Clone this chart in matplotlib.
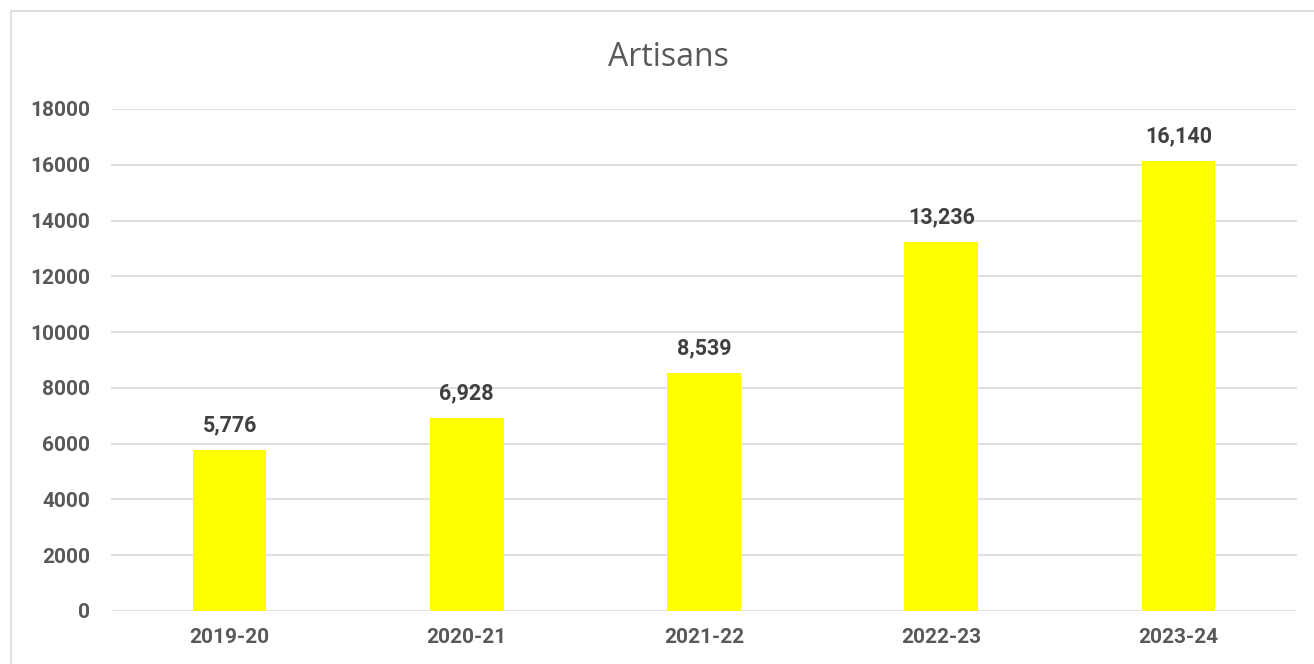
import matplotlib.pyplot as plt
from matplotlib.patches import Rectangle

years = ['2019-20', '2020-21', '2021-22', '2022-23', '2023-24']
artisans = [5776, 6928, 8539, 13236, 16140]
yticks = [0, 2000, 4000, 6000, 8000, 10000, 12000, 14000, 16000, 18000]

fig = plt.figure(figsize=(13.14, 6.64), dpi=100)
ax = fig.add_axes([111 / 1314, 1 - 611 / 664, 1186 / 1314, 502 / 664])

# chart border (clipped by the right and bottom edges)
fig.patches.append(Rectangle((11 / 1314, -0.05), 1.1, 1 - 11 / 664 + 0.05,
                             transform=fig.transFigure, fill=False,
                             edgecolor='#d9d9d9', linewidth=1.2))

x = range(len(years))
bars = ax.bar(x, artisans, width=0.31, color='#ffff00', zorder=3)

for b, v in zip(bars, artisans):
    ax.text(b.get_x() + b.get_width() / 2, v + 480, f'{v:,}',
            ha='center', va='bottom', fontsize=15.5, fontweight='bold',
            family='Roboto', color='#404040')

ax.set_xlim(-0.5, len(years) - 0.5)
ax.set_ylim(0, 18000)
ax.set_yticks(yticks)
ax.set_yticklabels([str(t) for t in yticks])
ax.set_xticks(list(x))
ax.set_xticklabels(years)
ax.grid(axis='y', color='#d9d9d9', linewidth=1.2, zorder=0)
for s in ax.spines.values():
    s.set_visible(False)
ax.tick_params(length=0, labelsize=15, labelcolor='#595959')
ax.tick_params(axis='y', pad=15)
ax.tick_params(axis='x', pad=12)
for lab in ax.get_xticklabels() + ax.get_yticklabels():
    lab.set_family('Roboto')
    lab.set_fontweight('bold')

fig.text(668 / 1314, 1 - 57 / 664, 'Artisans', ha='center', va='center',
         fontsize=23, family='Open Sans', color='#595959')

fig.savefig('out.png', dpi=100)
